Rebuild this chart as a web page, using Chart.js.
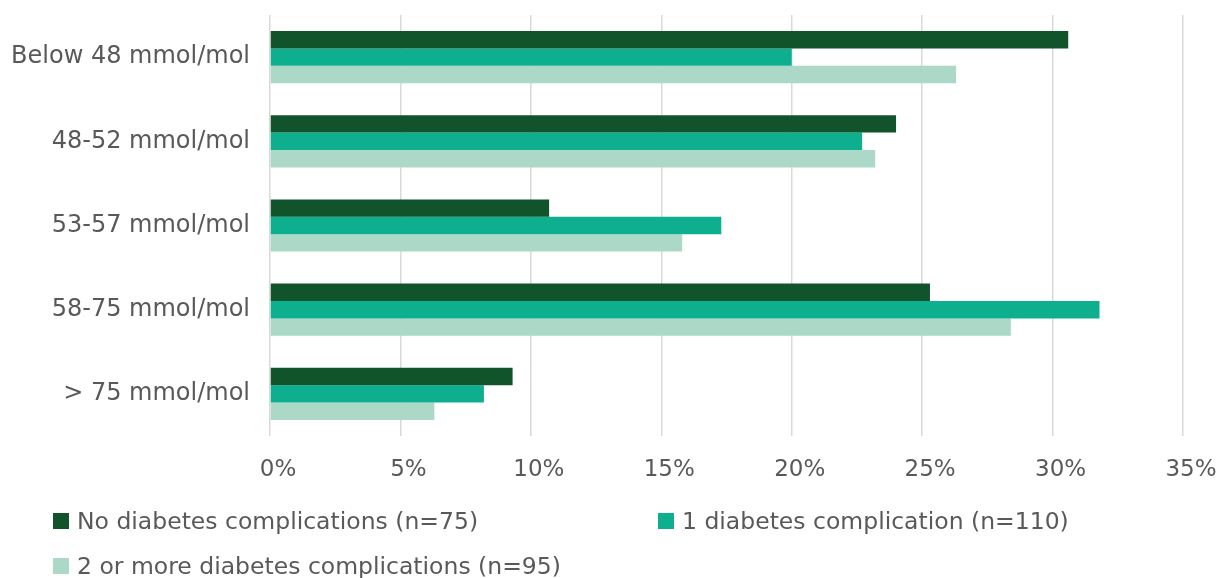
<!DOCTYPE html>
<html>
<head>
<meta charset="utf-8">
<script src="https://cdn.jsdelivr.net/npm/chart.js@4"></script>
<style>
  html, body { margin: 0; padding: 0; background: #fff; }
  #wrap { position: relative; width: 1228px; height: 578px; }
  #legend { position: absolute; left: 53px; top: 507px; width: 1160px;
    display: grid; grid-template-columns: 605px 555px; row-gap: 17px;
    font-family: "DejaVu Sans", sans-serif; font-size: 23.5px; color: #595959; }
  .item { display: flex; align-items: center; height: 28px; white-space: nowrap; }
  .box { width: 16px; height: 16px; margin-right: 8px; }
</style>
</head>
<body>
<div id="wrap">
  <canvas id="myChart" width="1228" height="578"></canvas>
  <div id="legend"></div>
</div>
<script>
var categories = ['Below 48 mmol/mol', '48-52 mmol/mol', '53-57 mmol/mol', '58-75 mmol/mol', '> 75 mmol/mol'];
var seriesNames = ['No diabetes complications (n=75)', '1 diabetes complication (n=110)', '2 or more diabetes complications (n=95)'];
var noComplications = [30.6, 24.0, 10.7, 25.3, 9.3];
var oneComplication = [20.0, 22.7, 17.3, 31.8, 8.2];
var twoOrMore = [26.3, 23.2, 15.8, 28.4, 6.3];
var xTicks = [0, 5, 10, 15, 20, 25, 30, 35];
var colors = ['#11532b', '#0daf8f', '#abd8c7'];

var fontFamily = '"DejaVu Sans", sans-serif';
var ctx = document.getElementById('myChart').getContext('2d');
var myChart = new Chart(ctx, {
  type: 'bar',
  data: {
    labels: categories,
    datasets: [
      { label: seriesNames[0], data: noComplications, backgroundColor: colors[0] },
      { label: seriesNames[1], data: oneComplication, backgroundColor: colors[1] },
      { label: seriesNames[2], data: twoOrMore, backgroundColor: colors[2] }
    ]
  },
  options: {
    indexAxis: 'y',
    responsive: false,
    animation: false,
    layout: { padding: { top: 15, right: 45, left: 0, bottom: 0 } },
    datasets: { bar: { barPercentage: 1, categoryPercentage: 0.62 } },
    scales: {
      x: {
        min: 0,
        max: 35,
        afterBuildTicks: function (s) { s.ticks = xTicks.map(function (v) { return { value: v }; }); },
        afterFit: function (s) { s.height = 142; s.paddingLeft = 0; s.paddingRight = 0; },
        grid: { color: '#d9d9d9', lineWidth: 1.5, drawTicks: false },
        border: { display: false },
        ticks: {
          padding: 20,
          labelOffset: 8,
          color: '#595959',
          font: { family: fontFamily, size: 23 },
          callback: function (v) { return v + '%'; }
        }
      },
      y: {
        afterFit: function (s) { s.width = 270; s.paddingTop = 0; s.paddingBottom = 0; },
        grid: { display: false },
        border: { display: false },
        ticks: {
          padding: 12,
          color: '#595959',
          font: { family: fontFamily, size: 24 }
        }
      }
    },
    plugins: {
      legend: { display: false },
      tooltip: { enabled: false }
    }
  }
});

var legend = document.getElementById('legend');
myChart.data.datasets.forEach(function (ds) {
  var item = document.createElement('div');
  item.className = 'item';
  var box = document.createElement('span');
  box.className = 'box';
  box.style.background = ds.backgroundColor;
  var txt = document.createElement('span');
  txt.textContent = ds.label;
  item.appendChild(box);
  item.appendChild(txt);
  legend.appendChild(item);
});
</script>
</body>
</html>
